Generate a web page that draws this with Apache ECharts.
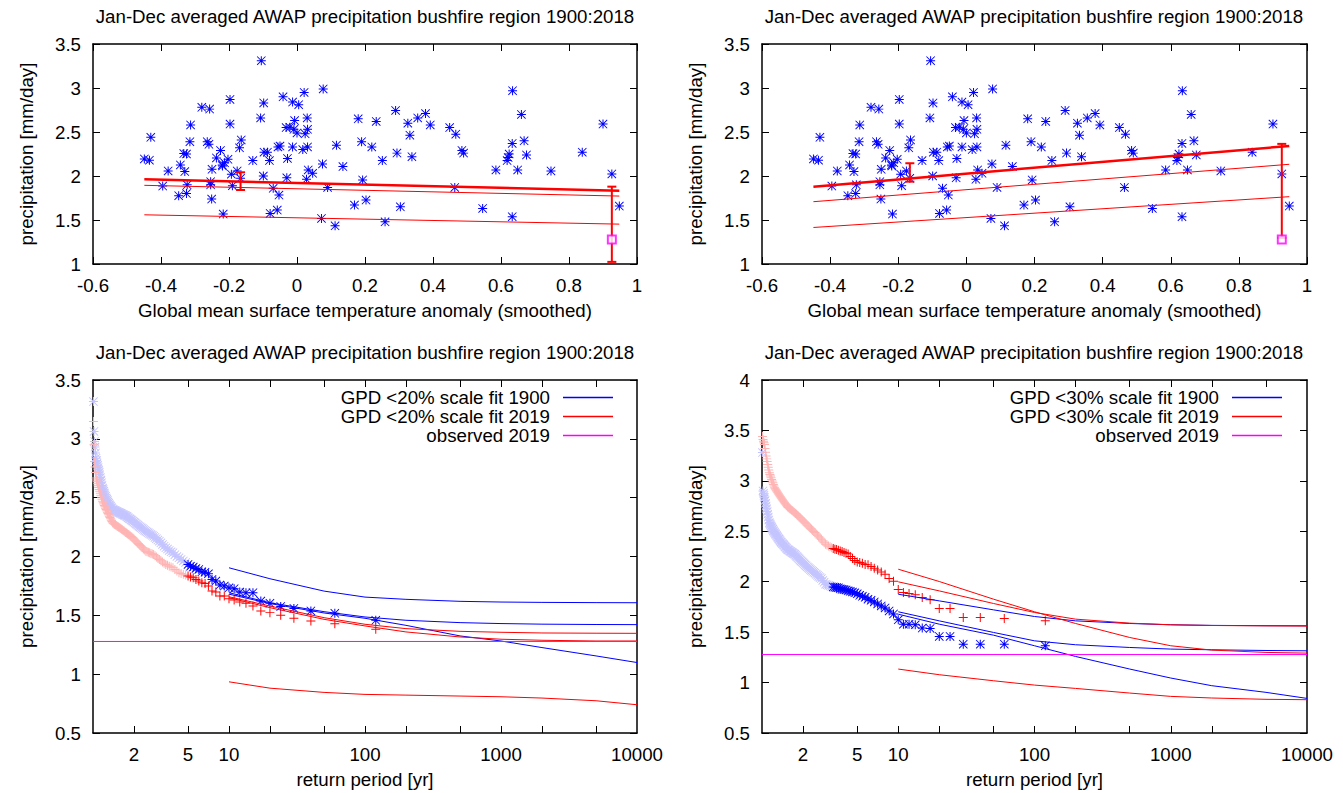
<!DOCTYPE html>
<html>
<head>
<meta charset="utf-8">
<script src="https://cdn.jsdelivr.net/npm/echarts@6/dist/echarts.min.js"></script>
<style>
html, body { margin: 0; padding: 0; background: #fff; }
#chart-container { width: 1343px; height: 793px; }
</style>
</head>
<body>
<div id="chart-container"></div>
<script>
// ---- top panels: annual precipitation vs smoothed GMST anomaly ----
var gmstAnomaly = [
    -0.105, 0.077, 0.021, 0.634, -0.041, -0.197, -0.098, -0.013, 0.005, -0.280,
    -0.257, 0.290, 0.378, 0.660, -0.107, 0.180, 0.030, 0.355, 0.233, -0.007,
    -0.313, -0.197, -0.032, 0.392, 0.326, -0.021, -0.009, 0.000, 0.031, 0.024,
    0.900, 0.449, 0.467, 0.332, -0.430, -0.264, -0.259, -0.315, -0.164, -0.169,
    0.116, 0.190, 0.220, 0.633, 0.668, -0.056, -0.050, -0.013, 0.031, 0.017,
    -0.097, -0.087, -0.333, -0.325, -0.225, 0.485, 0.490, 0.839, 0.294, 0.624,
    0.675, 0.621, 0.618, -0.449, -0.434, -0.237, -0.203, -0.130, -0.081, -0.028,
    0.251, 0.338, -0.343, -0.220, -0.213, 0.075, 0.135, -0.250, -0.379, -0.330,
    -0.176, -0.193, 0.033, 0.046, 0.585, 0.649, 0.747, 0.926, -0.099, -0.030,
    0.028, 0.193, -0.254, -0.254, -0.323, -0.395, -0.190, -0.070, 0.090, 0.464,
    -0.325, -0.348, -0.053, -0.251, 0.203, 0.169, 0.304, 0.546, -0.058, -0.217,
    -0.079, 0.072, 0.633, 0.112, 0.259, 0.948, -0.166, -0.219
];
var precipitation = [
    3.31, 2.99, 2.95, 2.97, 2.90, 2.87, 2.83, 2.84, 2.81, 2.78,
    2.76, 2.745, 2.71, 2.70, 2.66, 2.65, 2.66, 2.66, 2.62, 2.63,
    2.58, 2.59, 2.55, 2.58, 2.60, 2.555, 2.53, 2.49, 2.53, 2.48,
    2.59, 2.55, 2.475, 2.464, 2.44, 2.39, 2.36, 2.39, 2.41, 2.32,
    2.35, 2.39, 2.33, 2.37, 2.40, 2.33, 2.34, 2.33, 2.33, 2.30,
    2.27, 2.27, 2.255, 2.25, 2.29, 2.29, 2.26, 2.27, 2.26, 2.25,
    2.24, 2.21, 2.175, 2.194, 2.18, 2.205, 2.19, 2.175, 2.175, 2.20,
    2.175, 2.22, 2.126, 2.126, 2.15, 2.137, 2.107, 2.076, 2.057, 2.05,
    2.057, 2.02, 2.069, 2.031, 2.069, 2.069, 2.057, 2.023, 2.00, 1.98,
    1.962, 1.955, 1.936, 1.90, 1.90, 1.886, 1.89, 1.86, 1.87, 1.87,
    1.80, 1.776, 1.784, 1.738, 1.727, 1.67, 1.65, 1.632, 1.613, 1.567,
    1.575, 1.518, 1.537, 1.434, 1.48, 1.658, 1.974, 2.114
];

// fitted lines (20% scale fit, left; 30% scale fit, right), ends at min/max anomaly
var lineAnomaly = [-0.449, 0.948];
var fit20Mean = [1.962, 1.833];
var fit20Mid = [1.894, 1.772];
var fit20Low = [1.559, 1.453];
var fit30Mean = [1.879, 2.342];
var fit30Mid = [1.708, 2.133];
var fit30Low = [1.415, 1.765];

// error bars at 1900-ish and 2019 anomaly: [x, low, high]
var errAnomaly = [-0.166, 0.926];
var err20Low = [1.841, 1.024];
var err20High = [2.042, 1.879];
var err30Low = [1.936, 1.297];
var err30High = [2.145, 2.365];

var observed2019 = 1.278;
var anomaly2019 = 0.926;

// ---- bottom panels: return periods ----
var returnPeriod = [
    120, 60, 40, 30, 24, 20, 17.14, 15, 13.33, 12,
    10.91, 10, 9.231, 8.571, 8, 7.5, 7.059, 6.667, 6.316, 6,
    5.714, 5.455, 5.217, 5, 4.8, 4.615, 4.444, 4.286, 4.138, 4,
    3.871, 3.75, 3.636, 3.529, 3.429, 3.333, 3.243, 3.158, 3.077, 3,
    2.927, 2.857, 2.791, 2.727, 2.667, 2.609, 2.553, 2.5, 2.449, 2.4,
    2.353, 2.308, 2.264, 2.222, 2.182, 2.143, 2.105, 2.069, 2.034, 2,
    1.967, 1.935, 1.905, 1.875, 1.846, 1.818, 1.791, 1.765, 1.739, 1.714,
    1.690, 1.667, 1.644, 1.622, 1.6, 1.579, 1.558, 1.538, 1.519, 1.5,
    1.481, 1.463, 1.446, 1.429, 1.412, 1.395, 1.379, 1.364, 1.348, 1.333,
    1.319, 1.304, 1.290, 1.277, 1.263, 1.25, 1.237, 1.224, 1.212, 1.2,
    1.188, 1.176, 1.165, 1.154, 1.143, 1.132, 1.121, 1.111, 1.101, 1.091,
    1.081, 1.071, 1.062, 1.053, 1.043, 1.034, 1.026, 1.017, 1.008
];
var level1900_20 = [
    1.458, 1.517, 1.537, 1.559, 1.576, 1.602, 1.621, 1.692, 1.692, 1.698,
    1.726, 1.734, 1.749, 1.757, 1.791, 1.805, 1.853, 1.867, 1.870, 1.890,
    1.899, 1.910, 1.918, 1.933, 1.950, 1.962, 1.975, 1.989, 2.000, 2.015,
    2.031, 2.040, 2.052, 2.063, 2.074, 2.088, 2.102, 2.116, 2.130, 2.140,
    2.151, 2.162, 2.173, 2.180, 2.187, 2.194, 2.201, 2.208, 2.215, 2.222,
    2.229, 2.237, 2.244, 2.251, 2.258, 2.265, 2.272, 2.279, 2.286, 2.293,
    2.300, 2.306, 2.312, 2.318, 2.324, 2.330, 2.336, 2.342, 2.346, 2.349,
    2.353, 2.356, 2.360, 2.363, 2.367, 2.370, 2.373, 2.376, 2.379, 2.382,
    2.385, 2.388, 2.391, 2.394, 2.397, 2.399, 2.408, 2.416, 2.425, 2.433,
    2.441, 2.452, 2.463, 2.475, 2.486, 2.497, 2.511, 2.525, 2.539, 2.554,
    2.568, 2.582, 2.604, 2.627, 2.650, 2.672, 2.695, 2.715, 2.735, 2.755,
    2.775, 2.795, 2.815, 2.836, 2.880, 2.930, 2.978, 3.063, 3.317
];
var level2019_20 = [
    1.381, 1.429, 1.452, 1.475, 1.500, 1.523, 1.537, 1.579, 1.602, 1.613,
    1.630, 1.641, 1.664, 1.664, 1.698, 1.706, 1.749, 1.771, 1.777, 1.791,
    1.805, 1.820, 1.825, 1.834, 1.842, 1.850, 1.856, 1.862, 1.876, 1.890,
    1.904, 1.911, 1.918, 1.925, 1.932, 1.943, 1.953, 1.964, 1.975, 1.986,
    1.996, 2.007, 2.017, 2.022, 2.026, 2.031, 2.036, 2.040, 2.045, 2.055,
    2.064, 2.074, 2.083, 2.093, 2.102, 2.111, 2.121, 2.130, 2.139, 2.149,
    2.158, 2.164, 2.170, 2.176, 2.182, 2.188, 2.194, 2.200, 2.205, 2.211,
    2.216, 2.221, 2.227, 2.232, 2.237, 2.243, 2.247, 2.251, 2.256, 2.260,
    2.264, 2.269, 2.273, 2.277, 2.282, 2.286, 2.297, 2.309, 2.320, 2.331,
    2.343, 2.354, 2.365, 2.377, 2.388, 2.399, 2.411, 2.422, 2.434, 2.446,
    2.457, 2.469, 2.486, 2.503, 2.520, 2.537, 2.554, 2.570, 2.586, 2.602,
    2.619, 2.635, 2.651, 2.667, 2.714, 2.761, 2.808, 2.950, 3.147
];
var level1900_30 = [
    1.365, 1.381, 1.381, 1.381, 1.457, 1.457, 1.537, 1.540, 1.573, 1.579,
    1.579, 1.622, 1.680, 1.710, 1.740, 1.760, 1.780, 1.800, 1.815, 1.827,
    1.845, 1.855, 1.865, 1.880, 1.890, 1.898, 1.905, 1.910, 1.918, 1.922,
    1.925, 1.930, 1.940, 1.942, 1.945, 1.948, 1.953, 1.959, 1.964, 1.970,
    1.975, 1.994, 2.012, 2.031, 2.042, 2.052, 2.063, 2.073, 2.084, 2.093,
    2.103, 2.112, 2.121, 2.131, 2.140, 2.149, 2.159, 2.168, 2.178, 2.187,
    2.197, 2.206, 2.215, 2.225, 2.234, 2.244, 2.253, 2.263, 2.272, 2.278,
    2.283, 2.289, 2.294, 2.300, 2.305, 2.311, 2.316, 2.322, 2.330, 2.338,
    2.346, 2.354, 2.363, 2.371, 2.379, 2.387, 2.395, 2.404, 2.414, 2.423,
    2.432, 2.441, 2.450, 2.460, 2.469, 2.478, 2.487, 2.498, 2.509, 2.520,
    2.531, 2.542, 2.553, 2.564, 2.575, 2.586, 2.613, 2.641, 2.668, 2.695,
    2.723, 2.750, 2.778, 2.805, 2.833, 2.855, 2.878, 2.900, 3.280
];
var level2019_30 = [
    1.612, 1.635, 1.645, 1.645, 1.735, 1.735, 1.820, 1.843, 1.870, 1.883,
    1.893, 1.922, 2.005, 2.031, 2.074, 2.097, 2.117, 2.134, 2.150, 2.167,
    2.170, 2.183, 2.190, 2.196, 2.210, 2.230, 2.249, 2.276, 2.282, 2.289,
    2.299, 2.305, 2.312, 2.319, 2.322, 2.329, 2.337, 2.346, 2.354, 2.363,
    2.371, 2.387, 2.404, 2.420, 2.433, 2.447, 2.460, 2.474, 2.487, 2.498,
    2.509, 2.520, 2.531, 2.542, 2.553, 2.563, 2.574, 2.584, 2.594, 2.605,
    2.615, 2.625, 2.634, 2.642, 2.651, 2.659, 2.668, 2.676, 2.685, 2.692,
    2.698, 2.705, 2.711, 2.718, 2.724, 2.731, 2.737, 2.744, 2.754, 2.764,
    2.774, 2.784, 2.793, 2.803, 2.813, 2.823, 2.833, 2.843, 2.853, 2.863,
    2.873, 2.883, 2.893, 2.903, 2.913, 2.922, 2.932, 2.948, 2.965, 2.981,
    2.998, 3.014, 3.031, 3.047, 3.064, 3.080, 3.108, 3.135, 3.163, 3.191,
    3.218, 3.246, 3.284, 3.322, 3.360, 3.377, 3.393, 3.410, 3.440
];
var fitted20 = 24;   // points used in the <20% fit
var fitted30 = 36;   // points used in the <30% fit

// GPD return level curves
var fitPeriod = [10, 20, 50, 100, 200, 500, 1000, 2000, 5000, 10000];
var gpd20_1900 = [1.692, 1.607, 1.531, 1.486, 1.458, 1.438, 1.430, 1.425, 1.422, 1.421];
var gpd20_1900Hi = [1.904, 1.811, 1.706, 1.655, 1.636, 1.619, 1.613, 1.610, 1.608, 1.607];
var gpd20_1900Lo = [1.680, 1.600, 1.520, 1.475, 1.415, 1.325, 1.282, 1.226, 1.155, 1.099];
var gpd20_2019 = [1.650, 1.565, 1.466, 1.410, 1.359, 1.316, 1.297, 1.288, 1.282, 1.282];
var gpd20_2019Hi = [1.658, 1.579, 1.480, 1.424, 1.387, 1.364, 1.356, 1.350, 1.348, 1.347];
var gpd20_2019Lo = [0.935, 0.881, 0.845, 0.828, 0.822, 0.814, 0.808, 0.797, 0.774, 0.740];
var gpd30_1900 = [1.702, 1.612, 1.497, 1.414, 1.375, 1.348, 1.332, 1.325, 1.318, 1.315];
var gpd30_1900Hi = [1.876, 1.810, 1.721, 1.655, 1.612, 1.586, 1.573, 1.567, 1.564, 1.563];
var gpd30_1900Lo = [1.678, 1.579, 1.470, 1.365, 1.259, 1.134, 1.045, 0.969, 0.903, 0.843];
var gpd30_2019 = [1.999, 1.909, 1.784, 1.695, 1.629, 1.589, 1.573, 1.566, 1.562, 1.560];
var gpd30_2019Hi = [2.124, 2.002, 1.827, 1.702, 1.586, 1.447, 1.365, 1.322, 1.299, 1.292];
var gpd30_2019Lo = [1.134, 1.078, 1.018, 0.975, 0.942, 0.896, 0.863, 0.847, 0.834, 0.830];

var periodLabels = [2, 5, 10, 100, 1000, 10000];
var periodTicks = [2, 5, 10, 20, 50, 100, 200, 500, 1000, 2000, 5000];

var TITLE = 'Jan-Dec averaged AWAP precipitation bushfire region 1900:2018';
var FONT = '"Liberation Sans", Arial, sans-serif';
var FS = 18.7;
var BLUE = '#0000ff', RED = '#ff0000', MAGENTA = '#ff00ff';
var LIGHTBLUE = '#c4c4ff', LIGHTRED = '#ffb4b4';

var PLUS = 'path://M0,4.45H10V5.55H0Z M4.45,0H5.55V10H4.45Z';
var STAR = 'path://M0,4.45H10V5.55H0Z M4.45,0H5.55V10H4.45Z M0.7,0L10,9.3L9.3,10L0,0.7Z M9.3,0L10,0.7L0.7,10L0,9.3Z';

function zip(xs, ys) {
    return xs.map(function (x, i) { return [x, ys[i]]; });
}

var frameLine = {show: true, onZero: false, lineStyle: {color: '#000', width: 1.5}};
var innerTick = {show: true, inside: true, length: 7, lineStyle: {color: '#000', width: 1}};
var labelStyle = {color: '#000', fontSize: FS, fontFamily: FONT};

function xPair(grid, base, name, tickValues, labelValues) {
    var label = Object.assign({margin: 12}, labelStyle);
    if (labelValues) {
        label.customValues = labelValues;
        label.formatter = function (v) { return String(v); };
    }
    var bottom = Object.assign({
        gridIndex: grid, position: 'bottom',
        name: name, nameLocation: 'middle', nameGap: 37,
        nameTextStyle: labelStyle,
        axisLine: frameLine,
        axisTick: Object.assign({}, innerTick, tickValues ? {customValues: tickValues} : {}),
        axisLabel: label,
        splitLine: {show: false}
    }, base);
    var top = Object.assign({
        gridIndex: grid, position: 'top',
        axisLine: frameLine,
        axisTick: Object.assign({}, innerTick, tickValues ? {customValues: tickValues} : {}),
        axisLabel: {show: false},
        splitLine: {show: false}
    }, base);
    return [bottom, top];
}

function yPair(grid, min, max) {
    var base = {type: 'value', min: min, max: max, interval: 0.5};
    var left = Object.assign({
        gridIndex: grid, position: 'left',
        name: 'precipitation [mm/day]', nameLocation: 'middle', nameGap: 57,
        nameTextStyle: labelStyle,
        axisLine: frameLine, axisTick: innerTick,
        axisLabel: Object.assign({margin: 12}, labelStyle),
        splitLine: {show: false}
    }, base);
    var right = Object.assign({
        gridIndex: grid, position: 'right',
        axisLine: frameLine, axisTick: innerTick,
        axisLabel: {show: false},
        splitLine: {show: false}
    }, base);
    return [left, right];
}

function lineSeries(name, axis, data, color, width) {
    return {
        type: 'line', name: name, xAxisIndex: axis, yAxisIndex: axis,
        data: data, showSymbol: false, symbol: 'none',
        lineStyle: {color: color, width: width || 1},
        itemStyle: {color: color},
        silent: true, z: 3
    };
}

function errorBar(axis, x, lo, hi) {
    return {
        type: 'line', name: 'errorbar', xAxisIndex: axis, yAxisIndex: axis,
        data: [[x, lo], [x, hi]],
        symbol: 'rect', symbolSize: [9, 2], showSymbol: true,
        lineStyle: {color: RED, width: 2},
        itemStyle: {color: RED},
        silent: true, z: 4
    };
}

function scatterSeries(name, axis, data, symbol, color) {
    return {
        type: 'scatter', name: name, xAxisIndex: axis, yAxisIndex: axis,
        data: data, symbol: symbol, symbolSize: 9,
        itemStyle: {color: color, opacity: 1},
        silent: true, z: 2
    };
}

function topPanel(axis, mean, mid, low, errLo, errHi) {
    return [
        scatterSeries('precipitation', axis, zip(gmstAnomaly, precipitation), STAR, BLUE),
        lineSeries('fit', axis, zip(lineAnomaly, mean), RED, 2.5),
        lineSeries('fit mid', axis, zip(lineAnomaly, mid), RED, 1),
        lineSeries('fit low', axis, zip(lineAnomaly, low), RED, 1),
        errorBar(axis, errAnomaly[0], errLo[0], errHi[0]),
        errorBar(axis, errAnomaly[1], errLo[1], errHi[1]),
        {
            type: 'scatter', name: 'observed', xAxisIndex: axis, yAxisIndex: axis,
            data: [[anomaly2019, observed2019]],
            symbol: 'emptyRect', symbolSize: 8,
            itemStyle: {color: MAGENTA, borderColor: MAGENTA, borderWidth: 1},
            silent: true, z: 5
        }
    ];
}

function bottomPanel(axis, pct, lv1900, lv2019, nFit, c1900, c2019) {
    var pts1900 = zip(returnPeriod, lv1900);
    var pts2019 = zip(returnPeriod, lv2019);
    var n1900 = 'GPD <' + pct + '% scale fit 1900';
    var n2019 = 'GPD <' + pct + '% scale fit 2019';
    return [
        scatterSeries('unused 1900', axis, pts1900.slice(nFit), STAR, LIGHTBLUE),
        scatterSeries('unused 2019', axis, pts2019.slice(nFit), PLUS, LIGHTRED),
        scatterSeries('used 1900', axis, pts1900.slice(0, nFit), STAR, BLUE),
        scatterSeries('used 2019', axis, pts2019.slice(0, nFit), PLUS, RED),
        lineSeries(n1900, axis, zip(fitPeriod, c1900[0]), BLUE, 1),
        lineSeries(n1900, axis, zip(fitPeriod, c1900[1]), BLUE, 1),
        lineSeries(n1900, axis, zip(fitPeriod, c1900[2]), BLUE, 1),
        lineSeries(n2019, axis, zip(fitPeriod, c2019[0]), RED, 1),
        lineSeries(n2019, axis, zip(fitPeriod, c2019[1]), RED, 1),
        lineSeries(n2019, axis, zip(fitPeriod, c2019[2]), RED, 1),
        lineSeries('observed 2019', axis, [[1, observed2019], [10000, observed2019]], MAGENTA, 1)
    ];
}

function legendFor(pct, right) {
    return {
        data: ['GPD <' + pct + '% scale fit 1900', 'GPD <' + pct + '% scale fit 2019', 'observed 2019'],
        orient: 'vertical', align: 'right', right: right, top: 388,
        icon: 'rect', itemWidth: 50, itemHeight: 1.5, itemGap: 0,
        selectedMode: false, padding: 0,
        textStyle: {color: '#000', fontSize: FS, fontFamily: FONT, lineHeight: 19, padding: [0, 8, 0, 0]}
    };
}

var chartDom = document.getElementById('chart-container');
var myChart = echarts.init(chartDom, null, {renderer: 'svg', width: 1343, height: 793});

var logBase = {type: 'log', logBase: 10, min: 1, max: 10000};
var anomalyBase = {type: 'value', min: -0.6, max: 1, interval: 0.2};
var xName = 'Global mean surface temperature anomaly (smoothed)';

function titleText(x, y) {
    return {type: 'text', x: x, y: y, style: {text: TITLE, fontSize: FS, fontFamily: FONT, fill: '#000', align: 'center'}};
}

var option = {
    animation: false,
    backgroundColor: '#fff',
    textStyle: {fontFamily: FONT},
    grid: [
        {left: 93, top: 44, width: 544, height: 220},
        {left: 762, top: 44, width: 545, height: 220},
        {left: 93, top: 380, width: 544, height: 353},
        {left: 762, top: 380, width: 545, height: 353}
    ],
    graphic: [titleText(365, 7), titleText(1034, 7), titleText(365, 343), titleText(1034, 343)],
    legend: [legendFor(20, 730), legendFor(30, 61)],
    xAxis: [].concat(
        xPair(0, anomalyBase, xName),
        xPair(1, anomalyBase, xName),
        xPair(2, logBase, 'return period [yr]', periodTicks, periodLabels),
        xPair(3, logBase, 'return period [yr]', periodTicks, periodLabels)
    ),
    yAxis: [].concat(
        yPair(0, 1, 3.5),
        yPair(1, 1, 3.5),
        yPair(2, 0.5, 3.5),
        yPair(3, 0.5, 4)
    ),
    series: [].concat(
        topPanel(0, fit20Mean, fit20Mid, fit20Low, err20Low, err20High),
        topPanel(2, fit30Mean, fit30Mid, fit30Low, err30Low, err30High),
        bottomPanel(4, 20, level1900_20, level2019_20, fitted20,
            [gpd20_1900, gpd20_1900Hi, gpd20_1900Lo], [gpd20_2019, gpd20_2019Hi, gpd20_2019Lo]),
        bottomPanel(6, 30, level1900_30, level2019_30, fitted30,
            [gpd30_1900, gpd30_1900Hi, gpd30_1900Lo], [gpd30_2019, gpd30_2019Hi, gpd30_2019Lo])
    )
};

option && myChart.setOption(option);
</script>
</body>
</html>
